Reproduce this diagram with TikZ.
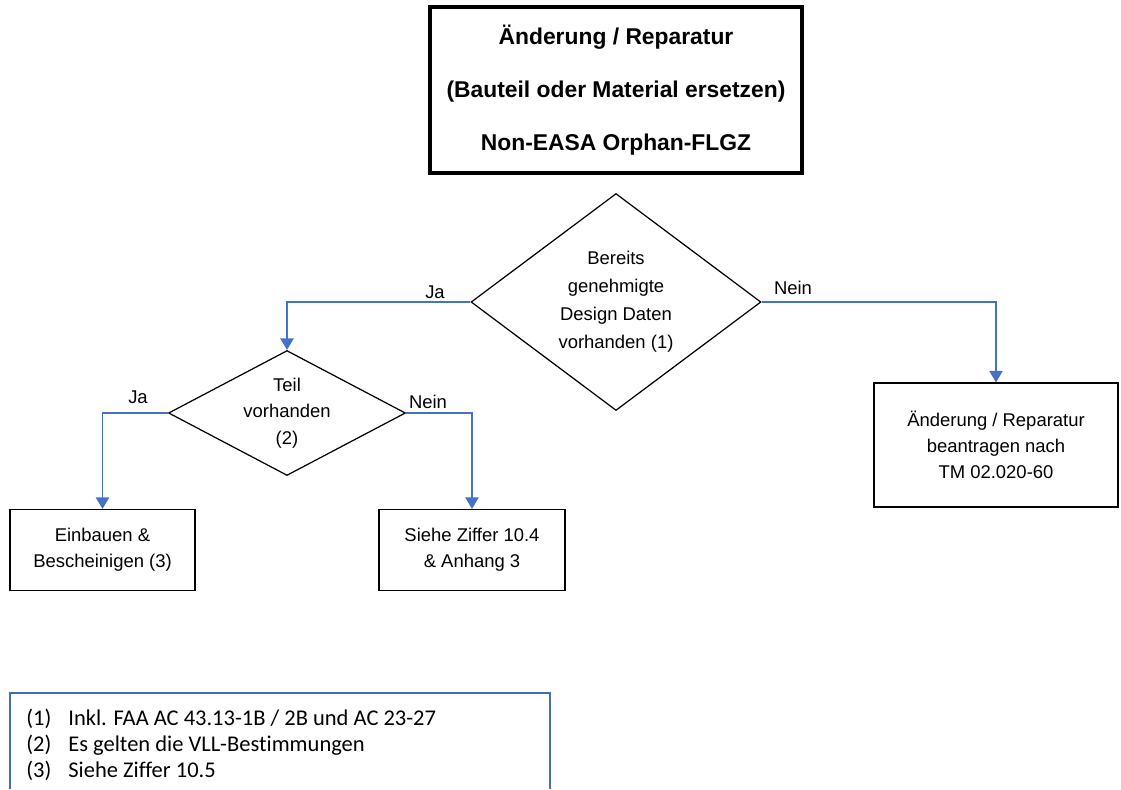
\documentclass[tikz,border=0pt]{standalone}
\usepackage{fontspec}
\setmainfont{Liberation Sans}
\newfontfamily\legendfont[Ligatures={NoCommon,NoDiscretionary,NoContextual}]{Carlito}
\usetikzlibrary{shapes.geometric,arrows.meta}
\definecolor{flowblue}{RGB}{68,114,196}
\definecolor{legendblue}{RGB}{70,110,170}
\tikzset{
  plain/.style={font=\fontsize{10.5}{15}\selectfont, align=center},
  boxnode/.style={plain, draw=black, line width=0.7pt, rectangle, inner sep=0pt},
  decision/.style={plain, draw=black, line width=0.7pt, diamond, inner sep=0pt},
  flow/.style={draw=flowblue, line width=0.8pt, -{Triangle[length=6.5pt,width=7.5pt]}},
  branch/.style={font=\fontsize{10.5}{12}\selectfont, inner sep=0pt},
  legendline/.style={font=\legendfont\fontsize{12.8}{15}\selectfont, anchor=base west, inner sep=0pt}
}
\begin{document}
\begin{tikzpicture}[x=0.02cm, y=-0.02cm]
\useasboundingbox (0,0) rectangle (1121,789);
% title box
\node[draw=black, line width=2.3pt, rectangle, minimum width=7.44cm, minimum height=3.32cm,
      font=\bfseries\fontsize{13}{30}\selectfont, align=center] (title) at (616,90)
  {Änderung / Reparatur\\(Bauteil oder Material ersetzen)\\Non-EASA Orphan-FLGZ};
% main decision
\node[decision, font=\fontsize{10.5}{16}\selectfont, aspect=1.336, minimum width=5.8cm, minimum height=4.34cm] (main) at (616,302)
  {Bereits\\genehmigte\\Design Daten\\vorhanden (1)};
% second decision
\node[decision, aspect=1.896, minimum width=4.74cm, minimum height=2.5cm] (teil) at (287,413)
  {Teil\\vorhanden\\(2)};
% result boxes
\node[boxnode, minimum width=3.7cm, minimum height=1.62cm] (einb) at (102.5,550)
  {Einbauen \&\\Bescheinigen (3)};
\node[boxnode, minimum width=3.72cm, minimum height=1.62cm] (siehe) at (472,550)
  {Siehe Ziffer 10.4\\\& Anhang 3};
\node[boxnode, minimum width=4.88cm, minimum height=2.48cm] (antrag) at (996,445)
  {Änderung / Reparatur\\beantragen nach\\TM 02.020-60};
% connectors
\draw[flow] (main.west) -| (teil.north);
\draw[flow] (main.east) -| (antrag.north);
\draw[flow] (teil.west) -| (einb.north);
\draw[flow] (teil.east) -| (siehe.north);
% branch labels
\node[branch] (ja1) at (435,292) {Ja};
\node[branch] (nein1) at (793,288) {Nein};
\node[branch] (ja2) at (138,397) {Ja};
\node[branch] (nein2) at (428,402) {Nein};
% legend
\draw[legendblue, line width=0.6pt] (10,789) -- (10,693) -- (550,693) -- (550,789);
\node[legendline] (l1n) at (26,725) {(1)};
\node[legendline] (l1) at (68,725) {Inkl. FAA AC 43.13-1B / 2B und AC 23-27};
\node[legendline] (l2n) at (26,751) {(2)};
\node[legendline] (l2) at (68,751) {Es gelten die VLL-Bestimmungen};
\node[legendline] (l3n) at (26,777) {(3)};
\node[legendline] (l3) at (68,777) {Siehe Ziffer 10.5};
\end{tikzpicture}
\end{document}
